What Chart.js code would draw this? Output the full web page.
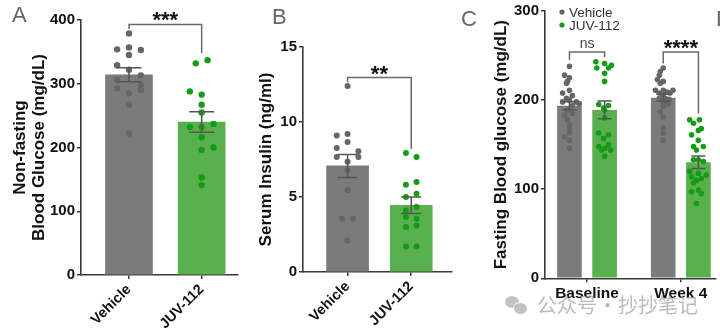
<!DOCTYPE html>
<html lang="en">
<head>
<meta charset="UTF-8">
<title>JUV-112 glucose and insulin</title>
<style>
  body { margin: 0; width: 720px; height: 336px; overflow: hidden; background: #fff; position: relative; }
  .panel { position: absolute; top: 0; height: 336px; }
  .letter { position: absolute; font-family: "Liberation Sans", Arial, sans-serif; font-size: 22px; color: #666; }
  .wm { position: absolute; left: 537px; top: 290px; font-family: "Noto Sans CJK SC", sans-serif; font-size: 20px; word-spacing: -4px; color: rgba(160,160,160,0.72); white-space: nowrap; }
  .bubble { position: absolute; border-radius: 50%; background: rgba(180,180,180,0.8); }
</style>
<script src="https://cdn.jsdelivr.net/npm/chart.js"></script>
</head>
<body>
<div class="panel" style="left:0;width:242px"><canvas id="chartA"></canvas></div>
<div class="panel" style="left:242px;width:214px"><canvas id="chartB"></canvas></div>
<div class="panel" style="left:456px;width:264px"><canvas id="chartC"></canvas></div>
<div class="letter" style="left:12px;top:2px">A</div>
<div class="letter" style="left:272px;top:4px">B</div>
<div class="letter" style="left:461px;top:6px">C</div>
<div class="letter" style="left:716px;top:6px">D</div>
<div class="bubble" style="left:505px;top:296px;width:14px;height:12px"></div>
<div class="bubble" style="left:513px;top:302px;width:13px;height:11px;border:1px solid #fff"></div>
<div class="wm">公众号 · 抄抄笔记</div>
<script>
// ---- A: non-fasting blood glucose (mg/dL)
const groupsA = ['Vehicle', 'JUV-112'];
const meanA = [314, 240];
const semA = [11, 16];
const vehA = [379, 357, 354, 353, 345, 329, 322, 313, 306, 298, 293, 290, 285, 267, 222];
const vehAJit = [0, 0, -1, 1, 0, -1, 0, 1, -1, 1, -1, 1, 0, 0, 0];
const juvA = [337, 332, 288, 283, 267, 255, 237, 232, 232, 216, 200, 196, 153, 141];
const juvAJit = [0.5, -0.5, -1, 0, 0, 0, 1, -1, 0, 0, 1, 0, 0, 0];
const sigA = { text: '***', top: 393, leftEnd: 386, rightEnd: 348 };

// ---- B: serum insulin (ng/ml)
const groupsB = ['Vehicle', 'JUV-112'];
const meanB = [7.07, 4.45];
const semB = [0.77, 0.55];
const vehB = [12.4, 9.1, 9.2, 8.67, 8.27, 8.05, 7.67, 7.67, 7.35, 6.78, 5.45, 3.55, 3.55, 2.1];
const vehBJit = [0, -1, 0, 0, -1, 1, -1, 1, 0, 0, 0, -0.5, 0.5, 0];
const juvB = [7.93, 7.67, 5.82, 6.0, 5.0, 5.22, 4.1, 4.33, 3.67, 3.55, 3.0, 3.1, 1.7, 1.7];
const juvBJit = [-1, 1, -1, 1, -1, 1, -1, 1, -1, 1, -1, 1, -1, 1];
const sigB = { text: '**', top: 12.96, leftEnd: 12.65, rightEnd: 8.2 };

// ---- C: fasting blood glucose (mg/dL), baseline and week 4
const timesC = ['Baseline', 'Week 4'];
const seriesC = ['Vehicle', 'JUV-112'];
const vehMeanC = [193.7, 202.7];
const vehSemC = [4.5, 4];
const juvMeanC = [189, 130.2];
const juvSemC = [10, 7];
const vehBaseC = [238, 228, 225, 221, 219, 211, 208, 205, 202, 200, 198, 198, 196, 194, 189, 185, 183, 178, 172, 168, 163, 159, 155, 146];
const vehBaseCJit = [0, -0.5, 0, -0.2, -0.3, 0, -0.7, 0.3, -0.3, 0, -0.7, 0.7, 1, 0.3, -0.2, 0.3, -0.5, -0.2, 0, 0, 0, -0.5, 0, 0];
const juvBaseC = [243, 241, 239, 236, 236, 230, 221, 195, 194, 191, 189, 180, 163, 161, 157, 150, 148, 146, 144, 144, 137];
const juvBaseCJit = [-0.9, 0, 0.7, -0.8, 0.4, 0, 0, -0.6, 0.4, -0.1, 0, 0, -0.6, 0.4, -0.1, 0.4, -0.6, 0, -0.3, 0.6, 0];
const vehWk4C = [236, 232, 228, 223, 221, 219, 211, 211, 209, 211, 208, 208, 206, 202, 202, 201, 198, 196, 193, 187, 181, 169, 163, 155];
const vehWk4CJit = [0, -0.3, -0.4, -0.6, 0, -0.3, -0.8, 0, 0.4, 1, -0.4, 0.7, 0, -0.4, 0.2, 0.6, 0, 0.5, 0, -0.3, 0, 0, 0, 0];
const juvWk4C = [178, 178, 174, 168, 166, 161, 155, 148, 148, 144, 133, 133, 131, 120, 118, 116, 114, 112, 110, 107, 99, 97, 95, 84];
const juvWk4CJit = [-0.9, 0.1, -0.5, 0.3, 0, -0.7, 0, -0.5, 0.5, -0.2, -0.5, 0, 0.5, -0.9, 0, 0.8, -0.7, 0.3, -0.2, -0.5, 0, -0.7, 0.3, -0.2];
const sigC = [
  { group: 0, text: 'ns', top: 254, leftEnd: 245, rightEnd: 248 },
  { group: 1, text: '****', top: 254, leftEnd: 241, rightEnd: 185 }
];

const FONT = '"Liberation Sans", Arial, sans-serif';
const AXIS = '#3a3a3a';
const GREY_BAR = '#7b7b7b', GREY_DOT = '#666666';
const GREEN_BAR = '#5aaf4e', GREEN_DOT = '#159c15';

// error bars (mean ± SEM) drawn on top of each bar
const errorBarPlugin = {
  id: 'errorBars',
  afterDatasetsDraw(chart) {
    const ctx = chart.ctx, y = chart.scales.y;
    chart.data.datasets.forEach((ds, i) => {
      if (!ds.sem) return;
      chart.getDatasetMeta(i).data.forEach((bar, j) => {
        const m = ds.data[j].y, e = ds.sem[j];
        const top = y.getPixelForValue(m + e), bot = y.getPixelForValue(m - e);
        const w = ds.capWidth;
        ctx.save();
        ctx.strokeStyle = '#555';
        ctx.lineWidth = 1.5;
        ctx.beginPath();
        ctx.moveTo(bar.x, top); ctx.lineTo(bar.x, bot);
        ctx.moveTo(bar.x - w, top); ctx.lineTo(bar.x + w, top);
        ctx.moveTo(bar.x - w, bot); ctx.lineTo(bar.x + w, bot);
        ctx.stroke();
        ctx.restore();
      });
    });
  }
};

// significance brackets
const bracketPlugin = {
  id: 'brackets',
  afterDraw(chart, args, opts) {
    const { ctx, scales: { x, y } } = chart;
    (opts.items || []).forEach(b => {
      const x1 = x.getPixelForValue(b.from), x2 = x.getPixelForValue(b.to);
      const yt = y.getPixelForValue(b.top);
      ctx.save();
      ctx.strokeStyle = '#6a6a6a';
      ctx.lineWidth = 1.5;
      ctx.beginPath();
      ctx.moveTo(x1, y.getPixelForValue(b.leftEnd));
      ctx.lineTo(x1, yt);
      ctx.lineTo(x2, yt);
      ctx.lineTo(x2, y.getPixelForValue(b.rightEnd));
      ctx.stroke();
      ctx.textAlign = 'center';
      if (b.text === 'ns') {
        ctx.fillStyle = '#444';
        ctx.font = '14px ' + FONT;
        ctx.fillText(b.text, (x1 + x2) / 2, yt - 4);
      } else {
        ctx.fillStyle = '#111';
        ctx.font = 'bold 22px ' + FONT;
        ctx.fillText(b.text, (x1 + x2) / 2, yt + 3);
      }
      ctx.restore();
    });
  }
};

// small dot legend in the top-left of panel C
const dotLegendPlugin = {
  id: 'dotLegend',
  afterDraw(chart, args, opts) {
    if (!opts.show) return;
    const { ctx, chartArea } = chart;
    const items = chart.data.datasets.filter(d => d.type === 'bar');
    items.forEach((d, i) => {
      const cy = chartArea.top + 1 + i * 13;
      const cx = chartArea.left + 17;
      ctx.save();
      ctx.fillStyle = d.dotColor;
      ctx.beginPath();
      ctx.arc(cx, cy, 2.6, 0, Math.PI * 2);
      ctx.fill();
      ctx.fillStyle = '#333';
      ctx.font = '13.5px ' + FONT;
      ctx.textBaseline = 'middle';
      ctx.fillText(d.label, cx + 7, cy + 1);
      ctx.restore();
    });
  }
};

function yAxis(max, step, title, width, titlePad) {
  return {
    min: 0, max,
    ticks: { stepSize: step, color: '#111', padding: 2, font: { family: FONT, size: 15, weight: 'bold' } },
    grid: { drawOnChartArea: false, tickLength: 4, color: AXIS, lineWidth: 1.5 },
    border: { color: AXIS, width: 1.6 },
    title: { display: true, text: title, color: '#111', padding: { top: titlePad, bottom: 0 },
      font: { family: FONT, size: 17, weight: 'bold', lineHeight: 1.12 } },
    afterFit(s) { s.width = width; }
  };
}

function xAxis(labels, min, max, height, size, rotation) {
  return {
    type: 'linear', min, max, offset: false,
    afterBuildTicks(s) { s.ticks = labels.map((_, i) => ({ value: i })); },
    ticks: { autoSkip: false, minRotation: rotation, maxRotation: rotation, padding: 2, color: '#111',
      font: { family: FONT, size, weight: 'bold' },
      callback: v => labels[v] },
    grid: { offset: false, drawOnChartArea: false, tickLength: 4, color: AXIS, lineWidth: 1.5 },
    border: { color: AXIS, width: 1.6 },
    afterFit(s) { s.height = height; }
  };
}

function dots(values, jit, base, spread, color, radius) {
  return {
    type: 'scatter', order: 1,
    data: values.map((v, k) => ({ x: base + jit[k] * spread, y: v })),
    pointRadius: radius, pointBorderWidth: 0, pointBackgroundColor: color
  };
}

function common(padding, plugins) {
  return {
    responsive: true, maintainAspectRatio: false, animation: false, events: [],
    layout: { padding },
    plugins: Object.assign({ legend: { display: false }, tooltip: { enabled: false } }, plugins)
  };
}

// panel A
new Chart(document.getElementById('chartA'), {
  type: 'bar',
  data: {
    datasets: [
      { type: 'bar', order: 2, data: meanA.map((m, i) => ({ x: i, y: m })), sem: semA, capWidth: 12.5,
        backgroundColor: [GREY_BAR, GREEN_BAR], barThickness: 47 },
      dots(vehA, vehAJit, 0, 0.163, GREY_DOT, 3.2),
      dots(juvA, juvAJit, 1, 0.163, GREEN_DOT, 3.2)
    ]
  },
  options: Object.assign(common({ top: 20, left: 0, right: 2, bottom: 0 },
    { brackets: { items: [Object.assign({ from: 0, to: 1 }, sigA)] } }), {
    scales: {
      x: xAxis(groupsA, -0.66, 1.5, 61, 14.5, 45),
      y: yAxis(400, 100, ['Non-fasting', 'Blood Glucose (mg/dL)'], 81, 10.5)
    }
  }),
  plugins: [errorBarPlugin, bracketPlugin]
});

// panel B
new Chart(document.getElementById('chartB'), {
  type: 'bar',
  data: {
    datasets: [
      { type: 'bar', order: 2, data: meanB.map((m, i) => ({ x: i, y: m })), sem: semB, capWidth: 10,
        backgroundColor: [GREY_BAR, GREEN_BAR], barThickness: 42 },
      dots(vehB, vehBJit, 0, 0.17, GREY_DOT, 3),
      dots(juvB, juvBJit, 1, 0.083, GREEN_DOT, 3)
    ]
  },
  options: Object.assign(common({ top: 47, left: 0, right: 3, bottom: 0 },
    { brackets: { items: [Object.assign({ from: 0, to: 1 }, sigB)] } }), {
    scales: {
      x: xAxis(groupsB, -0.70, 1.64, 64, 14.5, 45),
      y: yAxis(15, 5, 'Serum Insulin (ng/ml)', 61, 15)
    }
  }),
  plugins: [errorBarPlugin, bracketPlugin]
});

// panel C: grouped bars, offset of each group = categoryPercentage / 4
const catPct = 0.75;
const off = catPct / 4;
const spreadC = 0.104;
new Chart(document.getElementById('chartC'), {
  type: 'bar',
  data: {
    datasets: [
      { type: 'bar', order: 2, label: seriesC[0], dotColor: GREY_DOT, data: vehMeanC.map((m, i) => ({ x: i, y: m })),
        sem: vehSemC, capWidth: 7, backgroundColor: GREY_BAR, categoryPercentage: catPct, barPercentage: 0.7 },
      { type: 'bar', order: 2, label: seriesC[1], dotColor: GREEN_DOT, data: juvMeanC.map((m, i) => ({ x: i, y: m })),
        sem: juvSemC, capWidth: 7, backgroundColor: GREEN_BAR, categoryPercentage: catPct, barPercentage: 0.7 },
      dots(vehBaseC, vehBaseCJit, 0 - off, spreadC, GREY_DOT, 2.8),
      dots(juvBaseC, juvBaseCJit, 0 + off, spreadC, GREEN_DOT, 2.8),
      dots(vehWk4C, vehWk4CJit, 1 - off, spreadC, GREY_DOT, 2.8),
      dots(juvWk4C, juvWk4CJit, 1 + off, spreadC, GREEN_DOT, 2.8)
    ]
  },
  options: Object.assign(common({ top: 11, left: 0, right: 0, bottom: 0 }, {
    brackets: { items: sigC.map(s => Object.assign({ from: s.group - off, to: s.group + off }, s)) },
    dotLegend: { show: true }
  }), {
    scales: {
      x: xAxis(timesC, -0.448, 1.375, 57.7, 15.5, 0),
      y: yAxis(300, 100, 'Fasting Blood glucose (mg/dL)', 89, 36)
    }
  }),
  plugins: [errorBarPlugin, bracketPlugin, dotLegendPlugin]
});
</script>
</body>
</html>
